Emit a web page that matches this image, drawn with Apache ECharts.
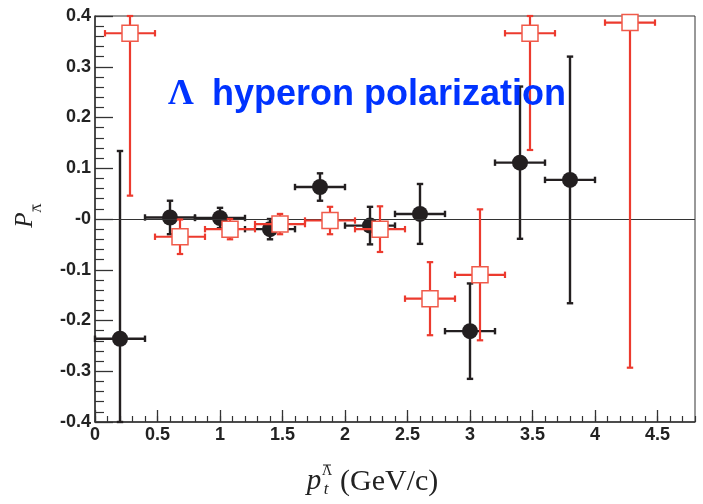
<!DOCTYPE html>
<html><head><meta charset="utf-8">
<script src="https://cdn.jsdelivr.net/npm/echarts@6/dist/echarts.min.js"></script>
<style>html,body{margin:0;padding:0;background:#fff}#c{width:703px;height:504px}</style>
</head><body><div id="c"></div>
<script>
// Λ (black, filled circles)
const lamX    = [0.2, 0.6, 1.0, 1.4, 1.8, 2.2, 2.6, 3.0, 3.4, 3.8];
const lamY    = [-0.236, 0.003, 0.002, -0.020, 0.063, -0.013, 0.010, -0.221, 0.111, 0.077];
const lamXErr = [0.2, 0.2, 0.2, 0.2, 0.2, 0.2, 0.2, 0.2, 0.2, 0.2];
const lamYErr = [0.370, 0.033, 0.020, 0.020, 0.027, 0.037, 0.059, 0.094, 0.150, 0.243];
// anti-Λ (red, open squares)
const antiX    = [0.28, 0.68, 1.08, 1.48, 1.88, 2.28, 2.68, 3.08, 3.48, 4.28];
const antiY    = [0.366, -0.035, -0.020, -0.010, -0.003, -0.020, -0.157, -0.110, 0.366, 0.387];
const antiXErr = [0.2, 0.2, 0.2, 0.2, 0.2, 0.2, 0.2, 0.2, 0.2, 0.2];
const antiYErr = [0.320, 0.034, 0.020, 0.020, 0.027, 0.045, 0.072, 0.129, 0.230, 0.680];
// tick labels
const xTickLabels = ['0','0.5','1','1.5','2','2.5','3','3.5','4','4.5'];
const yTickLabels = ['-0.4','-0.3','-0.2','-0.1','-0','0.1','0.2','0.3','0.4'];

const X_MIN = 0, X_MAX = 4.8, Y_MIN = -0.4, Y_MAX = 0.4;
const BLACK = '#231f20', RED = '#ec3a2e';
const tickFont = {fontFamily:'"Liberation Sans", Arial, sans-serif', fontWeight:'bold', fontSize:18, color:'#222'};

function errSeries(xs, ys, xe, ye, color, lw, z) {
  return {
    type:'custom', z:z, silent:true,
    data: xs.map((x,i)=>[x, ys[i], xe[i], ye[i]]),
    renderItem: function(params, api){
      const x=api.value(0), y=api.value(1), dx=api.value(2), dy=api.value(3);
      const cy=v=>Math.max(Y_MIN, Math.min(Y_MAX, v));
      const l=api.coord([x-dx,y]), r=api.coord([x+dx,y]);
      const t=api.coord([x,cy(y+dy)]), b=api.coord([x,cy(y-dy)]);
      const cap=3.2;
      const st={stroke:color, lineWidth:lw};
      const L=(x1,y1,x2,y2)=>({type:'line', shape:{x1,y1,x2,y2}, style:st});
      return {type:'group', children:[
        L(l[0],l[1],r[0],r[1]),
        L(t[0],t[1],b[0],b[1]),
        L(l[0],l[1]-cap,l[0],l[1]+cap),
        L(r[0],r[1]-cap,r[0],r[1]+cap),
        L(t[0]-cap,t[1],t[0]+cap,t[1]),
        L(b[0]-cap,b[1],b[0]+cap,b[1])
      ]};
    }
  };
}

const chart = echarts.init(document.getElementById('c'), null, {renderer:'canvas'});
chart.setOption({
  animation:false,
  backgroundColor:'#fff',
  grid:{left:95, right:8, top:16, bottom:82, show:true, borderColor:'#333', borderWidth:1, backgroundColor:'transparent'},
  xAxis:[{
    type:'value', min:X_MIN, max:X_MAX, interval:0.5, position:'bottom',
    axisLine:{show:true, onZero:false, lineStyle:{color:'#333', width:1.5}},
    axisTick:{show:true, inside:true, length:12, lineStyle:{color:'#333', width:1.3}},
    axisLabel:Object.assign({margin:4, showMaxLabel:false, formatter:v=>{const i=Math.round(v/0.5); return Math.abs(v-i*0.5)<1e-6 && xTickLabels[i]!==undefined ? xTickLabels[i] : '';}}, tickFont),
    splitLine:{show:false}
  },{
    type:'value', min:X_MIN, max:X_MAX, interval:0.1, position:'bottom',
    axisLine:{show:false, onZero:false},
    axisTick:{show:true, inside:true, length:6, lineStyle:{color:'#333', width:1.2}},
    axisLabel:{show:false}, splitLine:{show:false}
  }],
  yAxis:{
    type:'value', min:Y_MIN, max:Y_MAX, interval:0.1,
    axisLine:{show:true, onZero:false, lineStyle:{color:'#333', width:1.5}},
    axisTick:{show:true, inside:true, length:18, lineStyle:{color:'#333', width:1.3}},
    minorTick:{show:true, splitNumber:5, length:9, lineStyle:{color:'#333', width:1.2}},
    axisLabel:Object.assign({margin:4, formatter:v=>{const i=Math.round((v-Y_MIN)/0.1); return yTickLabels[i]||'';}}, tickFont),
    splitLine:{show:false}, minorSplitLine:{show:false}
  },
  series:[
    {type:'line', data:[], markLine:{silent:true, symbol:'none', label:{show:false}, lineStyle:{color:'#333', width:1, type:'solid'}, data:[{yAxis:0}]}},
    errSeries(lamX, lamY, lamXErr, lamYErr, BLACK, 2.4, 3),
    {type:'scatter', z:4, symbol:'circle', symbolSize:16, data:lamX.map((x,i)=>[x,lamY[i]]), itemStyle:{color:BLACK, opacity:1}},
    errSeries(antiX, antiY, antiXErr, antiYErr, RED, 2.2, 5),
    {type:'scatter', z:6, symbol:'rect', symbolSize:16, data:antiX.map((x,i)=>[x,antiY[i]]), itemStyle:{color:'#fff', borderColor:'#f05a4a', borderWidth:1.5, opacity:1}}
  ],
  graphic:[
    {type:'text', z:100, x:168, y:95, style:{text:'Λ', font:'bold 36px "Liberation Serif", serif', fill:'#0033ff', textVerticalAlign:'middle'}},
    {type:'text', z:100, x:212, y:95, style:{text:'hyperon polarization', font:'bold 36px "Liberation Sans", Arial, sans-serif', fill:'#0033ff', textVerticalAlign:'middle'}},
    {type:'text', z:100, x:25, y:220, rotation:Math.PI/2, style:{text:'P', font:'italic 25px "Liberation Serif", serif', fill:'#222', textAlign:'center', textVerticalAlign:'middle'}},
    {type:'text', z:100, x:38, y:208, rotation:Math.PI/2, style:{text:'Λ', font:'13px "Liberation Serif", serif', fill:'#222', textAlign:'center', textVerticalAlign:'middle'}},
    {type:'line', z:100, shape:{x1:33, y1:204.5, x2:33, y2:211.5}, style:{stroke:'#222', lineWidth:1}},
    {type:'text', z:100, x:314, y:481, style:{text:'p', font:'italic 29px "Liberation Serif", serif', fill:'#222', textAlign:'center', textVerticalAlign:'middle'}},
    {type:'text', z:100, x:327, y:471, style:{text:'Λ', font:'14px "Liberation Serif", serif', fill:'#222', textAlign:'center', textVerticalAlign:'middle'}},
    {type:'line', z:100, shape:{x1:323, y1:465, x2:331, y2:465}, style:{stroke:'#222', lineWidth:1}},
    {type:'text', z:100, x:326, y:490, style:{text:'t', font:'italic 17px "Liberation Serif", serif', fill:'#222', textAlign:'center', textVerticalAlign:'middle'}},
    {type:'text', z:100, x:340, y:482, style:{text:'(GeV/c)', font:'30px "Liberation Serif", serif', fill:'#222', textAlign:'left', textVerticalAlign:'middle'}}
  ]
});
</script></body></html>
